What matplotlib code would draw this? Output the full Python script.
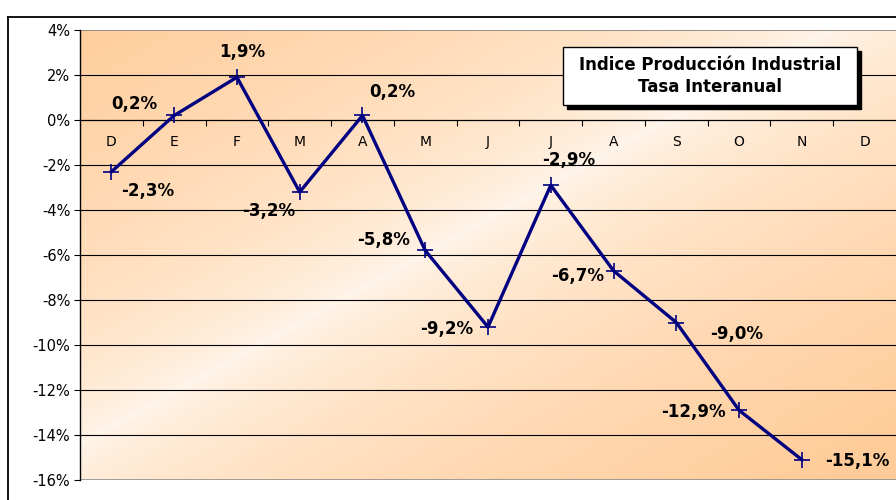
import numpy as np
import matplotlib
matplotlib.use("Agg")
import matplotlib.pyplot as plt
from matplotlib.lines import Line2D
from matplotlib.patches import Rectangle

# data
categories = ["D", "E", "F", "M", "A", "M", "J", "J", "A", "S", "O", "N", "D"]
values = [-2.3, 0.2, 1.9, -3.2, 0.2, -5.8, -9.2, -2.9, -6.7, -9.0, -12.9, -15.1]
value_labels = ["-2,3%", "0,2%", "1,9%", "-3,2%", "0,2%", "-5,8%", "-9,2%",
                "-2,9%", "-6,7%", "-9,0%", "-12,9%", "-15,1%"]
yticks = [-16, -14, -12, -10, -8, -6, -4, -2, 0, 2, 4]
title_lines = ["Indice Producción Industrial", "Tasa Interanual"]

# label offsets in pixels (dx, dy)
label_offsets = [(36, -19), (-40, 11), (5, 25), (-31, -19), (30, 23), (-42, 10),
                 (-41, -2), (18, 25), (-36, -5), (60, -12), (-46, -2), (55, -1)]

fig = plt.figure(figsize=(8.96, 5.0), dpi=100)
fig.patch.set_facecolor("white")
ax = fig.add_axes([80 / 896, 20 / 500, 816 / 896, 450 / 500])

# outer chart frame (top and left visible)
fig.add_artist(Line2D([8 / 896, 1], [1 - 17 / 500, 1 - 17 / 500], color="black", lw=1.3))
fig.add_artist(Line2D([8 / 896, 8 / 896], [0, 1 - 17 / 500], color="black", lw=1.3))

# diagonal gradient background: orange corners, light anti-diagonal
W, H = 816, 450
xx, yy = np.meshgrid(np.linspace(0, 1, W), np.linspace(0, 1, H))
s = (xx + yy) / 2
w = np.clip(np.abs(s - 0.46) / 0.5, 0, 1) ** 0.6
orange = np.array([255, 204, 153]) / 255
light = np.array([255, 246, 236]) / 255
img = light + (orange - light) * w[..., None]
ax.imshow(img, extent=[0, 1, 0, 1], transform=ax.transAxes, aspect="auto", zorder=0)

x = np.arange(len(values))
ax.set_xlim(-0.5, len(categories) - 0.5)
ax.set_ylim(-16, 4)

for yv in yticks[1:-1]:
    if yv != 0:
        ax.axhline(yv, color="black", lw=0.8, zorder=1)
ax.axhline(-16, color="#909090", lw=1.2, zorder=1)
ax.axhline(4, color="#808080", lw=1.2, zorder=1)

ax.plot(x, values, color="#000080", lw=2.4, marker="+", markersize=11,
        markeredgewidth=1.2, zorder=3, clip_on=False)

for xi, yi, lab, (dx, dy) in zip(x, values, value_labels, label_offsets):
    ax.annotate(lab, (xi, yi), xytext=(dx, dy), textcoords="offset pixels",
                ha="center", va="center", fontsize=12, fontweight="bold",
                color="black", zorder=4)

# axes styling
ax.spines["top"].set_visible(False)
ax.spines["right"].set_visible(False)
ax.spines["bottom"].set_position(("data", 0))
ax.spines["bottom"].set_linewidth(0.9)
ax.spines["left"].set_linewidth(1.0)
ax.set_yticks(yticks)
ax.set_yticklabels([f"{v}%" for v in yticks], fontsize=10.5)
ax.tick_params(axis="y", length=4, width=0.8, pad=3)
ax.set_xticks(np.arange(len(categories)))
ax.set_xticklabels(categories, fontsize=10)
ax.tick_params(axis="x", which="major", length=0, pad=11)
ax.set_xticks(np.arange(len(categories) - 1) + 0.5, minor=True)
ax.tick_params(axis="x", which="minor", length=4, width=0.8, direction="out")

# title box with shadow
bx, by, bw, bh = 563 / 896, 1 - 105 / 500, 294 / 896, 58 / 500
fig.add_artist(Rectangle((bx + 4 / 896, by - 4 / 500), bw, bh, facecolor="black",
                         edgecolor="black", transform=fig.transFigure, zorder=5))
fig.add_artist(Rectangle((bx, by), bw, bh, facecolor="white", edgecolor="black",
                         lw=1.0, transform=fig.transFigure, zorder=6))
fig.text(bx + bw / 2, by + bh / 2, "\n".join(title_lines), ha="center", va="center",
         fontsize=12, fontweight="bold", linespacing=1.3, zorder=7)

fig.savefig("out.png", dpi=100)
